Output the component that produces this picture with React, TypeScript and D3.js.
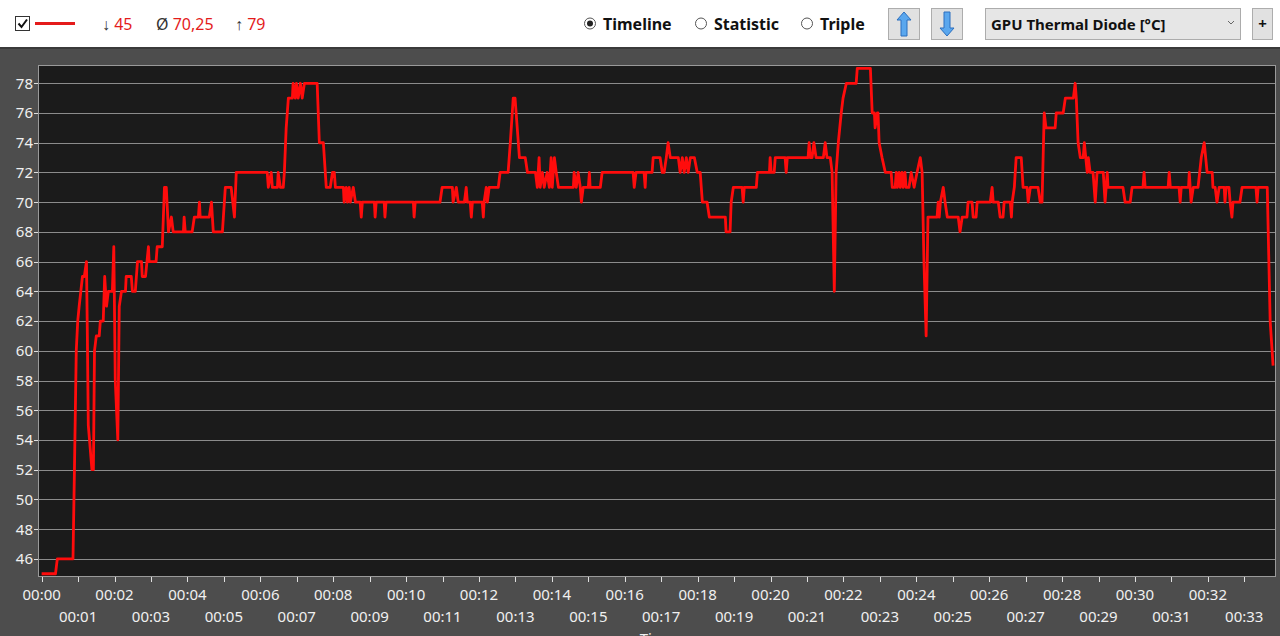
import React, { useEffect, useRef } from 'react';
import * as d3 from 'd3';

// GPU Thermal Diode [°C] over time (minutes)
const samples: [number, number][] = [
  [0, 45], [0.38, 45], [0.43, 46], [0.86, 46], [0.9, 52], [0.95, 60], [0.99, 62], [1.03, 63],
  [1.12, 65], [1.17, 65], [1.23, 66], [1.25, 62], [1.28, 55], [1.38, 52], [1.42, 52], [1.45, 60],
  [1.5, 61], [1.58, 61], [1.61, 62], [1.69, 62], [1.73, 65], [1.78, 63], [1.83, 64], [1.94, 64],
  [1.98, 67], [2.02, 58], [2.09, 54], [2.13, 63], [2.19, 64], [2.3, 64], [2.32, 65], [2.46, 65],
  [2.49, 64], [2.57, 64], [2.6, 65], [2.63, 66], [2.74, 66], [2.76, 65], [2.85, 65], [2.93, 67],
  [2.95, 66], [3.14, 66], [3.17, 67], [3.31, 67], [3.37, 71], [3.42, 71], [3.48, 68], [3.56, 69],
  [3.61, 68], [3.89, 68], [3.91, 69], [3.94, 68], [4.13, 68], [4.19, 69], [4.3, 69], [4.33, 70],
  [4.35, 69], [4.6, 69], [4.66, 70], [4.71, 68], [4.96, 68], [5.04, 71], [5.2, 71], [5.29, 69],
  [5.34, 72], [6.19, 72], [6.22, 71], [6.3, 72], [6.33, 71], [6.47, 71], [6.49, 72], [6.55, 71],
  [6.63, 71], [6.66, 72], [6.71, 75], [6.77, 77], [6.88, 77], [6.9, 78], [6.96, 77], [6.99, 78],
  [7.04, 77], [7.1, 78], [7.15, 77], [7.21, 78], [7.56, 78], [7.62, 74], [7.73, 74], [7.81, 71],
  [7.92, 71], [7.98, 72], [8.03, 72], [8.06, 71], [8.28, 71], [8.3, 70], [8.36, 71], [8.39, 70],
  [8.44, 71], [8.47, 70], [8.55, 71], [8.61, 70], [8.74, 70], [8.77, 69], [8.8, 70], [9.13, 70],
  [9.15, 69], [9.18, 70], [9.4, 70], [9.42, 69], [9.45, 70], [10.2, 70], [10.22, 69], [10.25, 70],
  [10.93, 70], [10.99, 71], [11.27, 71], [11.29, 70], [11.38, 71], [11.43, 70], [11.6, 70], [11.65, 71],
  [11.68, 70], [11.76, 70], [11.79, 69], [11.82, 70], [12.09, 70], [12.12, 69], [12.14, 70], [12.2, 71],
  [12.23, 70], [12.28, 71], [12.53, 71], [12.58, 72], [12.8, 72], [12.86, 74], [12.94, 77], [12.99, 77],
  [13.11, 73], [13.27, 73], [13.33, 72], [13.55, 72], [13.6, 71], [13.65, 73], [13.68, 71], [13.74, 72],
  [13.79, 71], [13.87, 72], [13.93, 71], [13.98, 73], [14.01, 71], [14.07, 73], [14.12, 72], [14.18, 71],
  [14.59, 71], [14.61, 72], [14.67, 71], [14.72, 72], [14.78, 71], [14.81, 70], [14.86, 71], [15.0, 71],
  [15.03, 72], [15.05, 71], [15.33, 71], [15.38, 72], [16.23, 72], [16.26, 71], [16.31, 72], [16.53, 72],
  [16.56, 71], [16.58, 72], [16.75, 72], [16.78, 73], [16.97, 73], [17.03, 72], [17.08, 72], [17.14, 73],
  [17.19, 74], [17.25, 73], [17.47, 73], [17.52, 72], [17.58, 73], [17.63, 72], [17.69, 73], [17.74, 72],
  [17.8, 73], [17.91, 73], [17.99, 72], [18.07, 72], [18.13, 70], [18.26, 70], [18.32, 69], [18.76, 69],
  [18.78, 68], [18.89, 68], [18.92, 70], [18.98, 71], [19.22, 71], [19.25, 70], [19.28, 71], [19.61, 71],
  [19.64, 72], [19.97, 72], [19.99, 73], [20.02, 72], [20.1, 72], [20.13, 73], [20.4, 73], [20.43, 72],
  [20.46, 73], [21.03, 73], [21.06, 74], [21.09, 73], [21.14, 73], [21.19, 74], [21.25, 73], [21.45, 73],
  [21.5, 74], [21.55, 73], [21.64, 73], [21.69, 72], [21.75, 64], [21.8, 72], [21.86, 74], [21.94, 76],
  [21.99, 77], [22.08, 78], [22.35, 78], [22.38, 79], [22.74, 79], [22.79, 76], [22.85, 76], [22.87, 75],
  [22.93, 76], [22.95, 76], [22.98, 74], [23.06, 73], [23.15, 72], [23.31, 72], [23.34, 71], [23.42, 71],
  [23.45, 72], [23.48, 71], [23.53, 72], [23.56, 71], [23.61, 72], [23.64, 71], [23.69, 72], [23.72, 71],
  [23.8, 71], [23.86, 72], [23.94, 71], [24.02, 72], [24.11, 73], [24.16, 72], [24.21, 66], [24.27, 61],
  [24.32, 69], [24.57, 69], [24.6, 70], [24.63, 69], [24.66, 70], [24.74, 71], [24.79, 70], [24.85, 69],
  [25.15, 69], [25.2, 68], [25.26, 69], [25.39, 69], [25.42, 70], [25.53, 70], [25.56, 69], [25.64, 69],
  [25.67, 70], [26.03, 70], [26.08, 71], [26.11, 70], [26.25, 70], [26.3, 69], [26.38, 69], [26.41, 70],
  [26.58, 70], [26.61, 69], [26.63, 70], [26.69, 71], [26.74, 73], [26.88, 73], [26.93, 71], [27.04, 71],
  [27.07, 70], [27.13, 71], [27.34, 71], [27.4, 70], [27.45, 70], [27.51, 76], [27.56, 75], [27.81, 75],
  [27.84, 76], [28.03, 76], [28.09, 77], [28.31, 77], [28.36, 78], [28.39, 77], [28.44, 74], [28.5, 73],
  [28.58, 73], [28.61, 74], [28.69, 72], [28.72, 73], [28.77, 72], [28.85, 72], [28.91, 70], [28.96, 72],
  [29.13, 72], [29.18, 70], [29.24, 72], [29.26, 71], [29.67, 71], [29.73, 70], [29.87, 70], [29.92, 71],
  [30.22, 71], [30.25, 72], [30.28, 71], [30.91, 71], [30.94, 72], [30.97, 71], [31.21, 71], [31.24, 70],
  [31.27, 71], [31.47, 71], [31.49, 72], [31.54, 70], [31.6, 71], [31.73, 71], [31.82, 73], [31.9, 74],
  [31.98, 72], [32.12, 72], [32.14, 71], [32.2, 71], [32.25, 70], [32.31, 71], [32.45, 71], [32.47, 70],
  [32.5, 71], [32.58, 71], [32.61, 70], [32.66, 69], [32.69, 70], [32.88, 70], [32.94, 71], [33.32, 71],
  [33.35, 70], [33.38, 71], [33.63, 71], [33.71, 62], [33.79, 59],
];

const xTicks = d3.range(0, 34);
const yTicks = [46, 48, 50, 52, 54, 56, 58, 60, 62, 64, 66, 68, 70, 72, 74, 76, 78];
const xDomain: [number, number] = [-0.1, 33.87];
const yDomain: [number, number] = [44.78, 79.23];

const statMin = '45';
const statAvg = '70,25';
const statMax = '79';
const sensorName = 'GPU Thermal Diode [°C]';
const viewModes = ['Timeline', 'Statistic', 'Triple'];

const W = 1280;
const H = 636;
const plot = { left: 38, top: 65, right: 1276, bottom: 577 };
const FONT = '"Noto Sans", "Open Sans", sans-serif';

const fmt = (m: number) => `00:${String(m).padStart(2, '0')}`;

const App: React.FC = () => {
  const svgRef = useRef<SVGSVGElement>(null);

  useEffect(() => {
    if (!svgRef.current) return;
    const svg = d3.select(svgRef.current);
    svg.selectAll('*').remove();

    // fondo
    svg.append('rect').attr('width', W).attr('height', H).attr('fill', '#4d4d4d');
    svg.append('rect').attr('width', W).attr('height', 47).attr('fill', '#ffffff');
    svg.append('rect').attr('y', 47).attr('width', W).attr('height', 2).attr('fill', '#3a3a3a');

    // ---- barra superior ----
    const top = svg.append('g').style('font-family', FONT);
    top.append('rect').attr('x', 15.5).attr('y', 16.5).attr('width', 14).attr('height', 14)
      .attr('fill', '#fff').attr('stroke', '#333');
    top.append('path').attr('d', 'M18.5,23.5 L21.5,27 L27,19.5')
      .attr('fill', 'none').attr('stroke', '#111').attr('stroke-width', 2);
    top.append('line').attr('x1', 35).attr('x2', 75).attr('y1', 23.5).attr('y2', 23.5)
      .attr('stroke', '#e41b1b').attr('stroke-width', 3);

    const stat = (x: number, sym: string, val: string) => {
      const t = top.append('text').attr('x', x).attr('y', 30).attr('font-size', 16);
      t.append('tspan').attr('fill', '#333').text(sym + ' ');
      t.append('tspan').attr('fill', '#e41b1b').text(val);
    };
    stat(102, '↓', statMin);
    stat(156, 'Ø', statAvg);
    stat(235, '↑', statMax);

    const radioX = [590, 701, 807];
    viewModes.forEach((m, i) => {
      top.append('circle').attr('cx', radioX[i]).attr('cy', 23.5).attr('r', 5.5)
        .attr('fill', '#fff').attr('stroke', '#555');
      if (i === 0) top.append('circle').attr('cx', radioX[i]).attr('cy', 23.5).attr('r', 3).attr('fill', '#222');
      top.append('text').attr('x', radioX[i] + 13).attr('y', 29.5).attr('font-size', 16)
        .attr('font-weight', 'bold').attr('fill', '#111').text(m);
    });

    const button = (x: number, w: number) =>
      top.append('rect').attr('x', x + 0.5).attr('y', 8.5).attr('width', w).attr('height', 31)
        .attr('fill', '#e1e1e1').attr('stroke', '#adadad');
    button(888, 31);
    button(931, 31);
    const arrowUp = 'M0,-12 L7,-4 L3,-4 L3,12 L-3,12 L-3,-4 L-7,-4 Z';
    top.append('path').attr('d', arrowUp).attr('transform', 'translate(904,24)')
      .attr('fill', '#5aa7ee').attr('stroke', '#2b6fbf').attr('stroke-width', 1);
    top.append('path').attr('d', arrowUp).attr('transform', 'translate(947,24) rotate(180)')
      .attr('fill', '#5aa7ee').attr('stroke', '#2b6fbf').attr('stroke-width', 1);

    top.append('rect').attr('x', 985.5).attr('y', 8.5).attr('width', 255).attr('height', 31)
      .attr('fill', '#e6e6e6').attr('stroke', '#acacac');
    top.append('text').attr('x', 991).attr('y', 29.5).attr('font-size', 15).attr('font-weight', 'bold')
      .attr('fill', '#111').text(sensorName);
    top.append('path').attr('d', 'M1228,21 L1231,24 L1234,21').attr('fill', 'none')
      .attr('stroke', '#666').attr('stroke-width', 1);
    button(1252, 20);
    top.append('text').attr('x', 1262.5).attr('y', 29).attr('font-size', 15).attr('font-weight', 'bold')
      .attr('text-anchor', 'middle').attr('fill', '#111').text('+');

    // ---- gráfico ----
    const x = d3.scaleLinear().domain(xDomain).range([plot.left, plot.right]);
    const y = d3.scaleLinear().domain(yDomain).range([plot.bottom, plot.top]);

    svg.append('rect').attr('x', plot.left).attr('y', plot.top)
      .attr('width', plot.right - plot.left).attr('height', plot.bottom - plot.top)
      .attr('fill', '#1b1b1b');

    svg.append('defs').append('clipPath').attr('id', 'plotClip')
      .append('rect').attr('x', plot.left).attr('y', plot.top)
      .attr('width', plot.right - plot.left).attr('height', plot.bottom - plot.top);

    // líneas de la cuadrícula
    svg.append('g').selectAll('line').data(yTicks).join('line')
      .attr('x1', plot.left).attr('x2', plot.right)
      .attr('y1', d => Math.round(y(d)) + 0.5).attr('y2', d => Math.round(y(d)) + 0.5)
      .attr('stroke', '#8c8c8c').attr('stroke-width', 1);

    // eje Y
    const yAxis = svg.append('g').style('font-family', FONT);
    yAxis.selectAll('line').data(yTicks).join('line')
      .attr('x1', plot.left - 4).attr('x2', plot.left)
      .attr('y1', d => Math.round(y(d)) + 0.5).attr('y2', d => Math.round(y(d)) + 0.5)
      .attr('stroke', '#e0e0e0');
    yAxis.selectAll('text').data(yTicks).join('text')
      .attr('x', plot.left - 5).attr('y', d => y(d)).attr('dy', '0.36em')
      .attr('text-anchor', 'end').attr('font-size', 15).attr('fill', '#f0f0f0')
      .text(d => d);

    // eje X
    const xAxis = svg.append('g').style('font-family', FONT);
    xAxis.selectAll('line').data(xTicks).join('line')
      .attr('x1', d => Math.round(x(d)) + 0.5).attr('x2', d => Math.round(x(d)) + 0.5)
      .attr('y1', plot.bottom).attr('y2', plot.bottom + 5)
      .attr('stroke', '#e0e0e0');
    xAxis.selectAll('text').data(xTicks).join('text')
      .attr('x', d => x(d)).attr('y', d => (d % 2 === 0 ? 600 : 622))
      .attr('text-anchor', 'middle').attr('font-size', 15).attr('fill', '#f0f0f0')
      .text(d => fmt(d));
    // el título del eje queda cortado por el borde inferior, como en la captura
    xAxis.append('text').attr('x', (plot.left + plot.right) / 2).attr('y', 644)
      .attr('text-anchor', 'middle').attr('font-size', 15).attr('fill', '#f0f0f0').text('Time');

    // serie
    const line = d3.line<[number, number]>()
      .x(d => x(d[0]))
      .y(d => y(d[1]));
    svg.append('path').datum(samples)
      .attr('clip-path', 'url(#plotClip)')
      .attr('fill', 'none').attr('stroke', '#ff0c0c').attr('stroke-width', 2.8)
      .attr('stroke-linejoin', 'round').attr('d', line);

    // borde
    svg.append('rect').attr('x', plot.left + 0.5).attr('y', plot.top + 0.5)
      .attr('width', plot.right - plot.left - 1).attr('height', plot.bottom - plot.top - 1)
      .attr('fill', 'none').attr('stroke', '#9a9a9a');
  }, []);

  return (
    <div style={{ position: 'fixed', left: 0, top: 0, width: W, height: H, overflow: 'hidden' }}>
      <svg ref={svgRef} width={W} height={H} style={{ display: 'block' }} />
    </div>
  );
};

export default App;
